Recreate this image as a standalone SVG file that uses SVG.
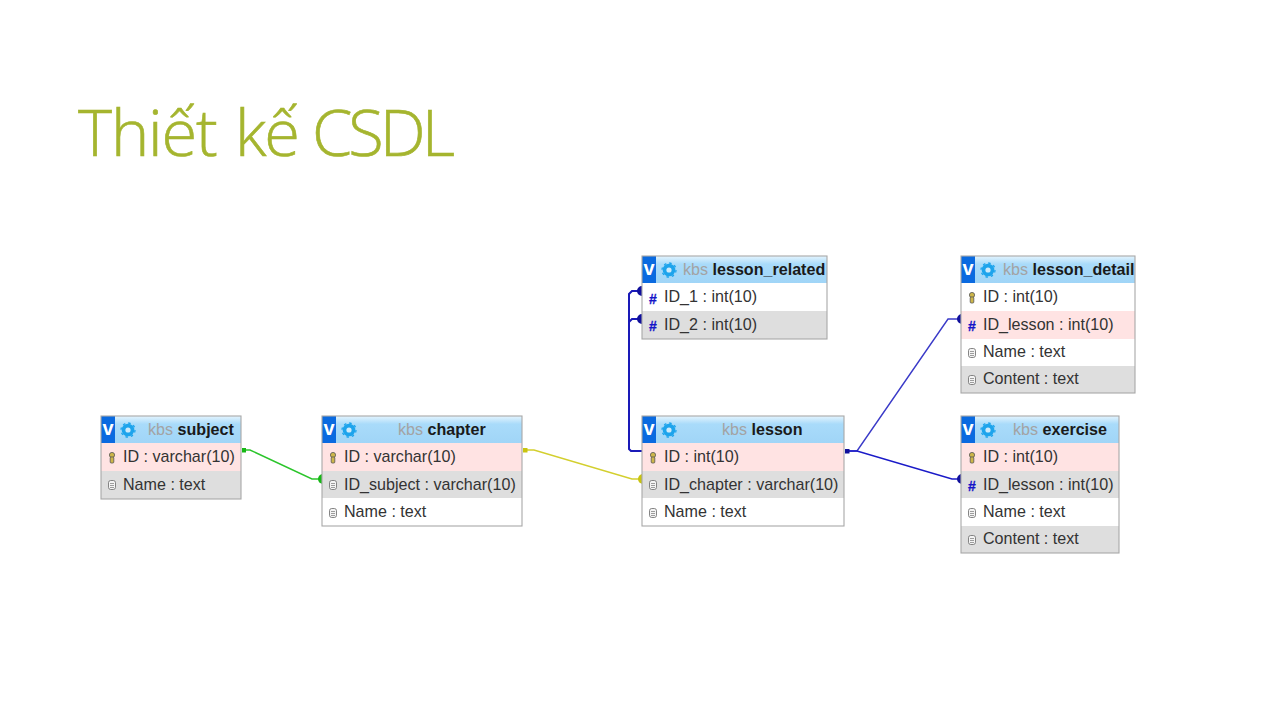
<svg xmlns="http://www.w3.org/2000/svg" width="1280" height="720" viewBox="0 0 1280 720">
<style>
text{font-family:"Liberation Sans",Arial,sans-serif;font-size:16.1px;fill:#333}
.title{font-family:"Open Sans","Noto Sans",sans-serif;font-weight:300;font-size:65px;fill:#a5b52f;stroke:#a5b52f;stroke-width:.6}
.kbs{fill:#a3a3a3}
.tn{font-weight:bold;fill:#1a1a1a}
.box{fill:#fff}
.frame{fill:none;stroke:#a8a8a8;stroke-width:1.1}
.pink{fill:#ffe3e3}.gray{fill:#dedede}
.v{fill:#0a6ae0}
.vt{font-weight:bold;fill:#fff;font-size:20px}
.gear{fill:#1ea4ec}
.gh{fill:#cdeafb}
.hash{font-weight:bold;fill:#1515c8;font-size:14px;stroke:#1515c8;stroke-width:.3}
.key{fill:#cdb64a;stroke:#555;stroke-width:.8}
.doc{fill:#f4f4f4;stroke:#777;stroke-width:.9}
.c{fill:none;stroke-width:1.4}
.c2{fill:none;stroke-width:2}
</style>
<defs>
<linearGradient id="hd" x1="0" y1="0" x2="0" y2="1"><stop offset="0" stop-color="#e4f4fe"/><stop offset=".3" stop-color="#a9dbfa"/><stop offset="1" stop-color="#a0d5f7"/></linearGradient>
<g id="hdrIcons">
<rect class="v" x="0" y="0" width="14" height="27"/>
<text class="vt" x="1.500" y="19">v</text>
<circle class="gear" cx="27" cy="14" r="6.300"/><circle cx="27" cy="14" r="7" fill="none" stroke="#1ea4ec" stroke-width="1.300" stroke-dasharray="2.500 3"/><circle class="gh" cx="27" cy="14" r="2.600"/>
</g>
<g id="key"><circle class="key" cx="0" cy="-3" r="2.600"/><rect class="key" x="-1.800" y="-1" width="3.600" height="6" rx="1"/></g>
<g id="doc"><rect class="doc" x="-3.500" y="-4.500" width="7" height="9" rx="2.200"/><path d="M-2-1.500H2M-2 .5H2M-2 2.500H2" stroke="#777" stroke-width=".7"/></g>
</defs>
<rect width="1280" height="720" fill="#fff"/>
<text class="title" x="78" y="156"><tspan letter-spacing="-1.200">Thiết </tspan><tspan x="235" letter-spacing="-2.200">kế </tspan><tspan x="312" letter-spacing="-4">CSDL</tspan></text>

<g id="connectors">
<path class="c" stroke="#2bc52b" d="M242 450H250L312 479H320"/>
<path d="M242 448v4.500h4v-4.500z" fill="#16b816"/><path d="M323 474a5 5 0 0 0 0 10z" fill="#16b816"/>
<path class="c" stroke="#d3cf2e" d="M523 450H534L632 479H640"/>
<path d="M523 448v4.500h4.500v-4.500z" fill="#c9c40f"/><path d="M643 474a5 5 0 0 0 0 10z" fill="#c9c40f"/>
<path class="c2" stroke="#1a1ab8" d="M642 291H632L629 294V449L631 451H642"/>
<path class="c2" stroke="#1a1ab8" d="M642 319H632L629 322"/>
<path d="M642 286a5 5 0 0 0 0 10zM642 314a5 5 0 0 0 0 10z" fill="#10109c"/>
<path class="c" stroke="#3a3ac8" d="M845 451H857L948 319H961"/>
<path class="c" stroke="#1a1ac8" d="M845 451H857L952 479H961"/>
<path d="M845 449v4.500h4.500v-4.500z" fill="#10109c"/>
<path d="M962 314a5 5 0 0 0 0 10zM962 474a5 5 0 0 0 0 10z" fill="#10109c"/>
</g>

<g id="subject">
<rect class="box" x="101" y="416" width="140" height="83"/>
<rect x="101" y="416" width="140" height="27" fill="url(#hd)"/>
<rect class="pink" x="101" y="443" width="140" height="28"/><rect class="gray" x="101" y="471" width="140" height="28"/>
<use href="#hdrIcons" x="101" y="416"/>
<text x="148" y="435"><tspan class="kbs">kbs</tspan> <tspan class="tn">subject</tspan></text>
<use href="#key" x="112" y="458"/><text x="123" y="462">ID : varchar(10)</text>
<use href="#doc" x="112" y="485"/><text x="123" y="490">Name : text</text>
<rect class="frame" x="101" y="416" width="140" height="83"/>
</g>

<g id="chapter">
<rect class="box" x="322" y="416" width="200" height="110"/>
<rect x="322" y="416" width="200" height="27" fill="url(#hd)"/>
<rect class="pink" x="322" y="443" width="200" height="28"/><rect class="gray" x="322" y="471" width="200" height="27"/>
<use href="#hdrIcons" x="322" y="416"/>
<text x="398" y="435"><tspan class="kbs">kbs</tspan> <tspan class="tn">chapter</tspan></text>
<use href="#key" x="333" y="458"/><text x="344" y="462">ID : varchar(10)</text>
<use href="#doc" x="333" y="485"/><text x="344" y="490">ID_subject : varchar(10)</text>
<use href="#doc" x="333" y="513"/><text x="344" y="517">Name : text</text>
<rect class="frame" x="322" y="416" width="200" height="110"/>
</g>

<g id="lesson">
<rect class="box" x="642" y="416" width="202" height="110"/>
<rect x="642" y="416" width="202" height="27" fill="url(#hd)"/>
<rect class="pink" x="642" y="443" width="202" height="28"/><rect class="gray" x="642" y="471" width="202" height="27"/>
<use href="#hdrIcons" x="642" y="416"/>
<text x="722" y="435"><tspan class="kbs">kbs</tspan> <tspan class="tn">lesson</tspan></text>
<use href="#key" x="653" y="458"/><text x="664" y="462">ID : int(10)</text>
<use href="#doc" x="653" y="485"/><text x="664" y="490">ID_chapter : varchar(10)</text>
<use href="#doc" x="653" y="513"/><text x="664" y="517">Name : text</text>
<rect class="frame" x="642" y="416" width="202" height="110"/>
</g>

<g id="lesson_related">
<rect class="box" x="642" y="256" width="185" height="83"/>
<rect x="642" y="256" width="185" height="27" fill="url(#hd)"/>
<rect class="gray" x="642" y="311" width="185" height="28"/>
<use href="#hdrIcons" x="642" y="256"/>
<text x="683" y="275"><tspan class="kbs">kbs</tspan> <tspan class="tn">lesson_related</tspan></text>
<text class="hash" x="649" y="304">#</text><text x="664" y="302">ID_1 : int(10)</text>
<text class="hash" x="649" y="331">#</text><text x="664" y="330">ID_2 : int(10)</text>
<rect class="frame" x="642" y="256" width="185" height="83"/>
</g>

<g id="lesson_detail">
<rect class="box" x="961" y="256" width="174" height="137"/>
<rect x="961" y="256" width="174" height="27" fill="url(#hd)"/>
<rect class="pink" x="961" y="311" width="174" height="28"/><rect class="gray" x="961" y="366" width="174" height="27"/>
<use href="#hdrIcons" x="961" y="256"/>
<text x="1003" y="275"><tspan class="kbs">kbs</tspan> <tspan class="tn">lesson_detail</tspan></text>
<use href="#key" x="972" y="298"/><text x="983" y="302">ID : int(10)</text>
<text class="hash" x="968" y="331">#</text><text x="983" y="330">ID_lesson : int(10)</text>
<use href="#doc" x="972" y="353"/><text x="983" y="357">Name : text</text>
<use href="#doc" x="972" y="380"/><text x="983" y="384">Content : text</text>
<rect class="frame" x="961" y="256" width="174" height="137"/>
</g>

<g id="exercise">
<rect class="box" x="961" y="416" width="158" height="137"/>
<rect x="961" y="416" width="158" height="27" fill="url(#hd)"/>
<rect class="pink" x="961" y="443" width="158" height="28"/><rect class="gray" x="961" y="471" width="158" height="27"/><rect class="gray" x="961" y="526" width="158" height="27"/>
<use href="#hdrIcons" x="961" y="416"/>
<text x="1013" y="435"><tspan class="kbs">kbs</tspan> <tspan class="tn">exercise</tspan></text>
<use href="#key" x="972" y="458"/><text x="983" y="462">ID : int(10)</text>
<text class="hash" x="968" y="491">#</text><text x="983" y="490">ID_lesson : int(10)</text>
<use href="#doc" x="972" y="513"/><text x="983" y="517">Name : text</text>
<use href="#doc" x="972" y="540"/><text x="983" y="544">Content : text</text>
<rect class="frame" x="961" y="416" width="158" height="137"/>
</g>
</svg>
